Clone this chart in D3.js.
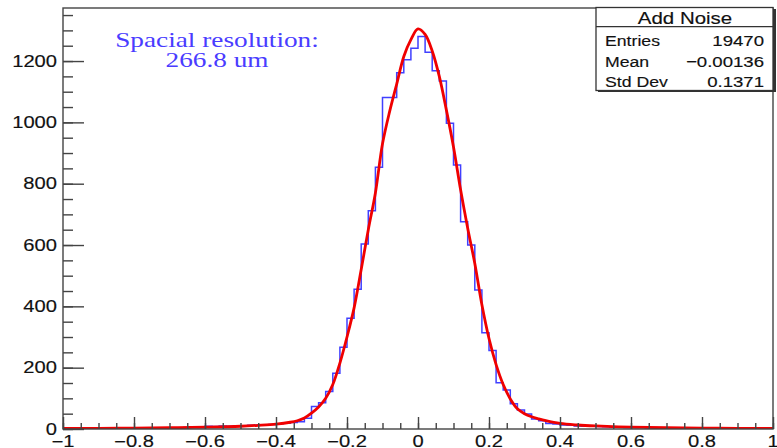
<!DOCTYPE html>
<html>
<head>
<meta charset="utf-8">
<script src="https://cdn.jsdelivr.net/npm/d3@7"></script>
<style>
  body { margin: 0; background: #fff; }
  svg { display: block; }
</style>
</head>
<body>
<svg id="chart" width="777" height="448"></svg>
<script>
// Histogram "Add Noise": 100 bins from -1 to 1
const bin_low = -1;
const bin_width = 0.02;
const bin_counts = [
    0, 0, 1, 0, 1, 1, 0, 1, 2, 1,
    2, 1, 3, 3, 2, 4, 4, 5, 6, 5,
    9, 8, 10, 9, 11, 10, 12, 13, 12, 15,
    17, 19, 21, 24, 35, 73, 86, 122, 182, 267,
    361, 456, 603, 712, 854, 1081, 1081, 1162, 1204, 1242,
    1280, 1229, 1168, 1135, 997, 861, 676, 600, 453, 314,
    256, 151, 127, 82, 62, 49, 33, 27, 18, 16,
    13, 12, 10, 9, 9, 8, 7, 6, 6, 5,
    5, 6, 4, 3, 4, 3, 2, 3, 2, 2,
    2, 1, 1, 1, 0, 1, 1, 0, 0, 0
];

// Fitted curve
const fit_x = [-1, -0.9, -0.8, -0.7, -0.6, -0.5, -0.45, -0.4,
    -0.36, -0.34, -0.32, -0.30, -0.28, -0.26, -0.24, -0.22, -0.20, -0.18, -0.16,
    -0.14, -0.12, -0.10, -0.08, -0.06, -0.04, -0.02, 0,
    0.02, 0.04, 0.06, 0.08, 0.10, 0.12, 0.14, 0.16, 0.18, 0.20, 0.22, 0.24,
    0.26, 0.28, 0.30, 0.32, 0.34, 0.36,
    0.40, 0.45, 0.5, 0.6, 0.7, 0.8, 0.9, 1.0];
const fit_y = [2, 2, 3, 4, 6, 9, 12, 16,
    22, 27, 36, 52, 72, 100, 145, 215, 300, 395, 520,
    650, 770, 930, 1035, 1125, 1215, 1270, 1305,
    1287, 1233, 1150, 1040, 920, 780, 655, 540, 405, 295, 210, 145,
    98, 66, 50, 40, 33, 27,
    18, 13, 10, 6, 4, 3, 2, 2];

const x_ticks = [-1, -0.8, -0.6, -0.4, -0.2, 0, 0.2, 0.4, 0.6, 0.8, 1];
const y_ticks = [0, 200, 400, 600, 800, 1000, 1200];

const stats_title = "Add Noise";
const stats_names = ["Entries", "Mean", "Std Dev"];
const stats_values = ["19470", "\u22120.00136", "0.1371"];

const note_lines = ["Spacial resolution:", "266.8 um"];

// picture was stretched sideways, so text gets stretched too
const stretch = 1.24;
const sans = "'Liberation Sans', Arial, sans-serif";
const serif = "'Liberation Serif', 'Times New Roman', serif";

const svg = d3.select("#chart");
const plot_left = 63, plot_right = 773, plot_top = 8, plot_bottom = 429;

const x = d3.scaleLinear().domain([-1, 1]).range([plot_left, plot_right]);
const y = d3.scaleLinear().domain([0, 1373]).range([plot_bottom, plot_top]);

function fmt(v) {
    return d3.format("")(v).replace("-", "\u2212");
}

function stretchedText(g, px, py, txt, size, anchor, family, color, sx, sw) {
    return g.append("text")
        .attr("transform", "translate(" + px + "," + py + ") scale(" + (sx || stretch) + ",1)")
        .attr("text-anchor", anchor)
        .style("font-family", family)
        .style("font-size", size + "px")
        .style("fill", color)
        .style("stroke", color)
        .style("stroke-width", sw || 0)
        .text(txt);
}

svg.append("clipPath").attr("id", "clip")
    .append("rect")
    .attr("x", plot_left).attr("y", plot_top)
    .attr("width", plot_right - plot_left).attr("height", plot_bottom - plot_top);

// Histogram outline as steps
const edges = bin_counts.map((c, i) => ({xv: bin_low + i * bin_width, yv: c}));
edges.push({xv: 1, yv: bin_counts[bin_counts.length - 1]});
const step = d3.line()
    .x((d) => x(d.xv))
    .y((d) => y(d.yv))
    .curve(d3.curveStepAfter);
svg.append("path")
    .attr("clip-path", "url(#clip)")
    .attr("d", step(edges))
    .attr("fill", "none")
    .attr("stroke", "#4040ff")
    .attr("stroke-width", 1.5);

// Fit curve
const fit_points = fit_x.map((v, i) => ({xv: v, yv: fit_y[i]}));
const smooth = d3.line()
    .x((d) => x(d.xv))
    .y((d) => y(d.yv))
    .curve(d3.curveCatmullRom.alpha(0.5));
svg.append("path")
    .attr("clip-path", "url(#clip)")
    .attr("d", smooth(fit_points))
    .attr("fill", "none")
    .attr("stroke", "#f00000")
    .attr("stroke-width", 2.8);

// Frame
svg.append("rect")
    .attr("x", plot_left).attr("y", plot_top)
    .attr("width", plot_right - plot_left).attr("height", plot_bottom - plot_top)
    .attr("fill", "none")
    .attr("stroke", "#444")
    .attr("stroke-width", 1.4);

// X axis ticks (pointing up into the plot)
const x_axis = svg.append("g").attr("transform", "translate(0," + plot_bottom + ")");
x_axis.append("g").call(d3.axisBottom(x).tickValues(d3.range(-1, 1.001, 0.05)).tickSize(-6).tickFormat(""));
x_axis.append("g").call(d3.axisBottom(x).tickValues(x_ticks).tickSize(-12).tickFormat(""));
x_axis.selectAll(".domain").remove();
x_axis.selectAll("line").attr("stroke", "#444").attr("stroke-width", 1.4);
x_ticks.forEach((t) => {
    stretchedText(svg, x(t), 446.5, fmt(t), 16, "middle", sans, "#111", 1.26, 0.15);
});

// Y axis ticks (pointing right into the plot)
const y_axis = svg.append("g").attr("transform", "translate(" + plot_left + ",0)");
y_axis.append("g").call(d3.axisLeft(y).tickValues(d3.range(0, 1373, 50)).tickSize(-10).tickFormat(""));
y_axis.append("g").call(d3.axisLeft(y).tickValues(y_ticks).tickSize(-21).tickFormat(""));
y_axis.selectAll(".domain").remove();
y_axis.selectAll("line").attr("stroke", "#444").attr("stroke-width", 1.4);
y_ticks.forEach((t) => {
    stretchedText(svg, 57, y(t) + 5.5, fmt(t), 16, "end", sans, "#111", 1.26, 0.15);
});

// Text note
stretchedText(svg, 217, 47, note_lines[0], 22, "middle", serif, "#4a3cff");
stretchedText(svg, 217, 67, note_lines[1], 22, "middle", serif, "#4a3cff");

// Stats box
const box = svg.append("g");
box.append("rect")
    .attr("x", 598).attr("y", 9)
    .attr("width", 178).attr("height", 83)
    .attr("fill", "#333");
box.append("rect")
    .attr("x", 596).attr("y", 7.5)
    .attr("width", 177).attr("height", 83)
    .attr("fill", "#fff")
    .attr("stroke", "#333")
    .attr("stroke-width", 1.3);
box.append("line")
    .attr("x1", 596).attr("x2", 773)
    .attr("y1", 26.7).attr("y2", 26.7)
    .attr("stroke", "#333")
    .attr("stroke-width", 1.2);
stretchedText(box, 685, 24, stats_title, 16.5, "middle", sans, "#111", stretch, 0.15);
stats_names.forEach((n, i) => {
    stretchedText(box, 605, 46 + i * 20.6, n, 15.5, "start", sans, "#111", 1.14, 0.15);
    stretchedText(box, 764, 46 + i * 20.6, stats_values[i], 15.5, "end", sans, "#111", 1.2, 0.15);
});
</script>
</body>
</html>
